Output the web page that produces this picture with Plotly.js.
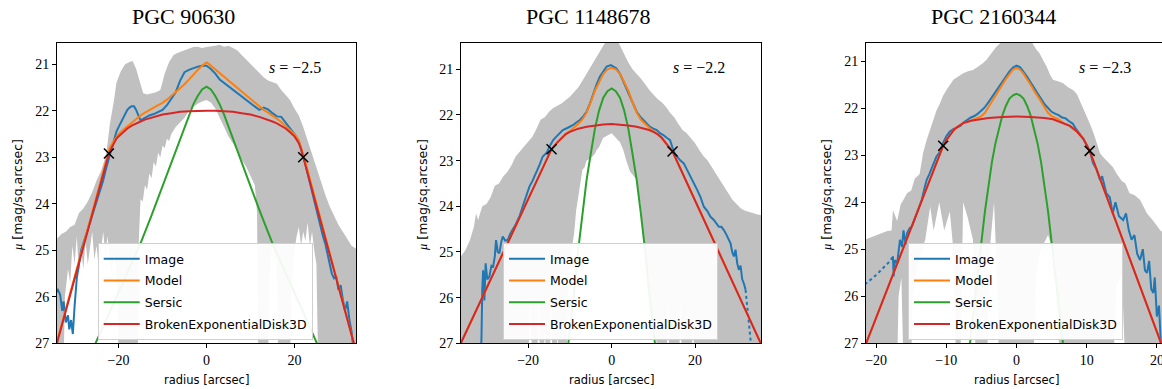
<!DOCTYPE html>
<html>
<head>
<meta charset="utf-8">
<script src="https://cdn.plot.ly/plotly-3.0.1.min.js"></script>
<style>
html,body{margin:0;padding:0;background:#fff;overflow:hidden;}
#chart{width:1170px;height:389px;}
</style>
</head>
<body>
<div id="chart"></div>
<script>
// ---------------- data ----------------
const titles = ["PGC 90630", "PGC 1148678", "PGC 2160344"];
const slopes = [-2.5, -2.2, -2.3];
const legendNames = ["Image", "Model", "Sersic", "BrokenExponentialDisk3D"];

// Panel 1 : PGC 90630
const p1ImageR = [-34.2,-33.8,-33.3,-32.8,-32.5,-32,-31.5,-31.2,-30.8,-30.4,-30,-29.5,-29,-28.5,-28,-27.5,-27,-26.5,-26,-25.5,-25,-24.5,-24,-23.5,-23,-22.5,-22,-21.5,-21,-20.5,-20,-19.5,-19,-18.5,-18,-17.5,-17,-16.5,-16,-15.5,-15,-14.5,-14,-13,-12,-11,-10,-9,-8,-7,-6,-5,-4,-3,-2,-1,0,1,2,3,4,5,6,7,8,9,10,11,12,13,14,15,16,17,18,19,20,21,22,22.5,23,23.5,24,24.5,25,25.5,26,26.5,27,27.5,28,28.5,29,29.5,30,30.5,31,31.5,32,32.5,33,33.5];
const p1Image  = [25.9,25.85,25.95,26.3,26.1,26.55,26.4,26.7,26.5,26.8,26.2,25.6,25.3,25.0,24.85,24.7,24.55,24.4,24.3,24.1,23.95,23.8,23.65,23.5,23.3,23.1,22.95,22.8,22.6,22.45,22.35,22.25,22.15,22.05,21.98,21.93,21.9,21.9,21.98,22.1,22.2,22.18,22.15,22.1,22.07,22.02,21.98,21.88,21.75,21.6,21.35,21.17,21.12,21.08,21.05,21.03,21.03,21.1,21.2,21.33,21.4,21.47,21.55,21.62,21.7,21.77,21.83,21.9,21.98,21.93,21.97,22.05,22.12,22.13,22.25,22.37,22.5,22.65,22.95,23.15,23.35,23.55,23.75,23.95,24.15,24.3,24.5,24.7,24.85,25.05,25.3,25.5,25.6,25.55,25.85,25.75,26.05,26.3,26.1,26.5,26.75,27.2];
const p1ModelR = [-34.4,-22.3,-22,-21,-20,-19,-18,-17,-16,-15,-14,-13,-12,-11,-10,-9,-8,-7,-6,-5,-4,-3,-2,-1,-0.5,0,0.5,1,2,3,4,5,6,7,8,9,10,11,12,13,14,15,16,17,18,19,20,21,22,33.8];
const p1Model  = [27.1,22.9,22.8,22.64,22.5,22.41,22.33,22.25,22.17,22.1,22.04,21.98,21.93,21.88,21.83,21.76,21.68,21.6,21.52,21.43,21.33,21.22,21.12,21.03,20.99,20.96,20.99,21.03,21.11,21.19,21.27,21.36,21.44,21.52,21.6,21.68,21.76,21.84,21.91,21.98,22.04,22.1,22.17,22.24,22.33,22.42,22.5,22.64,22.93,27.1];
const p1SersicR = [-27,-25,-22.5,-20,-17.5,-15,-12.5,-10,-7.5,-5,-4,-3,-2,-1,0,1,2,3,4,5,7.5,10,12.5,15,17.5,20,22.5,25,27];
const p1Sersic  = [27.4,26.95,26.43,25.9,25.38,24.85,24.25,23.62,22.97,22.33,22.08,21.86,21.68,21.54,21.48,21.54,21.68,21.86,22.08,22.33,22.97,23.62,24.25,24.85,25.38,25.9,26.43,26.95,27.4];
const p1DiskR = [-34.3,-22.2,-21.5,-21,-20.5,-20,-19,-18,-17,-16,-15,-14,-12,-10,-8,-6,-4,-2,0,2,4,6,8,10,12,14,15,16,17,18,19,20,20.5,21,21.5,22,33.8];
const p1Disk  = [27.1,22.92,22.78,22.68,22.6,22.55,22.46,22.38,22.32,22.27,22.23,22.19,22.13,22.08,22.05,22.02,22.01,22.0,22.0,22.0,22.01,22.02,22.05,22.08,22.13,22.19,22.23,22.27,22.32,22.38,22.46,22.55,22.62,22.7,22.82,23.0,27.1];
const p1BreakR = [-22.2, 22.0];
const p1BreakM = [22.92, 23.0];
const p1BandUpR = [-34.5,-33,-32,-31,-30,-29,-28,-27,-26,-25,-24,-23,-22.5,-22,-21,-20.5,-19.5,-18.5,-17.5,-16.8,-16,-15,-14.4,-13.5,-12.5,-11.5,-10.5,-9.5,-8.5,-7.5,-6.5,-5,-4,-3,-2,-1,0,1,2,3,4,5,6,7,8,9,10,11,12,13,14,15,16,17,18,19,20,21,22,23,24,25,26,27,28,29,30,31,32,33,34.5];
const p1BandUp  = [24.8,24.65,24.6,24.5,24.45,24.2,24.1,23.95,23.75,23.5,23.3,23.0,22.7,22.3,21.75,21.4,21.15,21.0,20.95,20.93,21.1,21.45,21.62,21.65,21.62,21.6,21.55,21.2,20.95,20.8,20.75,20.7,20.68,20.63,20.62,20.65,20.63,20.62,20.6,20.58,20.62,20.6,20.65,20.7,20.8,20.9,21.0,21.1,21.2,21.28,21.35,21.38,21.42,21.55,21.65,21.77,21.95,22.1,22.35,22.65,22.95,23.2,23.5,23.8,24.05,24.25,24.45,24.6,24.75,24.9,25.0];
const p1BandLowR = [-34.5,-32.5,-32.2,-31.5,-31,-30.5,-30,-29.5,-29,-28.5,-28,-27.5,-27,-26.5,-26,-25.5,-25,-24.5,-24,-23.5,-23,-22.5,-22,-21.5,-21,-20.5,-20.2,-20,-15.6,-15.4,-15,-14.5,-14,-13.5,-13,-12.5,-12,-11.5,-11,-10.5,-10,-9.5,-9,-8.5,-8,-7,-6,-5,-4,-3,-2,-1,0,1,2,3,4,5,6,7,8,9,10,10.5,11,11.5,11.8,14,14.3,15,15.5,16,16.3,19,19.3,20,20.5,21,21.5,22,22.5,23,23.5,24,24.5,25,25.4,34.5];
const p1BandLow  = [27.5,27.5,26.0,25.4,25.7,24.9,25.3,24.7,25.5,25.0,25.4,24.8,25.3,25.0,24.6,25.2,24.9,25.4,25.0,24.6,25.1,24.7,25.2,25.5,25.0,25.6,26.2,27.5,27.5,24.8,23.9,23.95,23.6,23.7,23.35,23.45,23.1,23.2,22.9,23.0,22.75,22.8,22.6,22.65,22.5,22.35,22.25,22.15,22.0,21.92,21.85,21.8,21.77,21.82,21.95,22.15,22.35,22.55,22.7,22.85,23.05,23.2,23.4,23.5,23.6,24.2,27.5,27.5,25.6,24.8,25.3,25.0,27.5,27.5,25.8,25.0,24.7,24.5,24.9,24.6,24.8,24.4,24.9,24.6,25.0,25.3,27.5,27.5];

// Panel 2 : PGC 1148678
const p2ImageR = [-31.5,-31.2,-31,-30.8,-30.5,-30.2,-29.8,-29.3,-28.8,-28.4,-28,-27.7,-27.3,-26.9,-26.5,-26.1,-25.5,-24.9,-24.3,-23.7,-23,-22.5,-22,-21.3,-20.5,-19.7,-19,-18.1,-17.3,-16.5,-15.5,-14.9,-14,-13.3,-12.5,-11.7,-10.5,-9.2,-8.4,-7.6,-6.8,-6,-5.2,-4.4,-3.6,-2.8,-2,-1.2,-0.2,0.5,1.1,2,2.8,3.6,4.4,5.2,6,6.8,7.6,8.4,9.2,10,10.8,11.6,12.4,13.2,14,14.6,15.2,15.7,16.5,17.3,18.1,18.9,19.7,20.5,21.3,22.1,22.9,23.7,24.5,25.1,25.7,26.3,26.9,27.5,28,28.5,28.9,29.3,29.7,30.1,30.5,30.9,31.3,31.7,32.1];
const p2Image  = [27.6,26.9,25.83,25.4,26.06,25.25,25.6,25.54,25.3,25.32,25.1,24.74,25.0,25.03,24.8,24.66,24.75,24.74,24.6,24.52,24.4,24.3,24.2,24.0,23.8,23.57,23.45,23.28,23.1,22.91,22.82,22.69,22.55,22.48,22.4,22.33,22.28,22.22,22.16,22.11,22.03,21.93,21.75,21.53,21.33,21.16,21.04,20.94,20.91,20.94,20.98,21.1,21.27,21.43,21.6,21.78,21.93,22.03,22.11,22.2,22.26,22.3,22.33,22.4,22.44,22.5,22.55,22.72,22.85,22.91,23.0,23.06,23.2,23.35,23.5,23.64,23.8,24.01,24.1,24.23,24.3,24.38,24.45,24.45,24.52,24.62,24.7,24.81,25.0,25.1,24.95,25.25,25.39,25.3,25.6,25.69,25.83];
const p2ImageFaintR = [32.1,32.5,32.9,33.3,33.6];
const p2ImageFaint  = [25.83,26.15,26.5,26.93,27.3];
const p2ModelR = [-36.4,-14.4,-13,-12,-11,-10,-9,-8,-7,-6,-5,-4,-3,-2,-1,0,1,2,3,4,5,6,7,8,9,10,11,12,13,14,14.6,36.0];
const p2Model  = [27.05,22.75,22.6,22.5,22.42,22.35,22.28,22.2,22.1,21.95,21.72,21.47,21.28,21.1,21.0,20.97,21.0,21.1,21.28,21.47,21.72,21.95,22.1,22.2,22.28,22.35,22.42,22.5,22.62,22.72,22.8,27.05];
const p2SersicR = [-11.5,-11,-10,-9,-8,-7,-6,-5,-4,-3,-2,-1,0,1,2,3,4,5,6,7,8,9,10,11,11.5];
const p2Sersic  = [27.9,27.5,26.7,25.9,24.95,24.15,23.42,22.85,22.3,21.9,21.62,21.48,21.42,21.48,21.62,21.9,22.3,22.85,23.42,24.15,24.95,25.9,26.7,27.5,27.9];
const p2DiskR = [-36.4,-14.4,-13,-12,-11,-10,-9,-8,-6,-4,-2,0,2,4,6,8,9,10,11,12,13,14,14.6,36.0];
const p2Disk  = [27.05,22.75,22.6,22.5,22.42,22.37,22.33,22.3,22.26,22.23,22.21,22.2,22.21,22.23,22.26,22.3,22.33,22.37,22.42,22.5,22.62,22.72,22.8,27.05];
const p2BreakR = [-14.4, 14.6];
const p2BreakM = [22.75, 22.8];
const p2BandUpR = [-36.5,-35,-34,-33,-32.5,-32,-31,-30,-29,-28,-27,-26,-25,-24,-23,-22,-21,-20,-19,-18,-17,-16,-15,-14,-13,-12,-11,-10,-9,-8,-7,-6,-5,-4,-3,-2,-1.2,-0.5,0,0.5,1.5,2.8,4,5,6,7,8,9,10,11,12,13,14,15,16,17,18,19,20,21,22,23,24,25,26,27,28,29,30,31,32,33,34,35,36.5];
const p2BandUp  = [25.15,24.95,24.75,24.45,24.15,24.3,24.0,23.95,23.8,23.55,23.5,23.35,23.25,23.1,22.91,22.8,22.7,22.6,22.48,22.3,22.1,22.05,21.93,21.85,21.8,21.75,21.67,21.6,21.5,21.4,21.25,21.1,20.95,20.8,20.65,20.5,20.36,20.2,20.1,20.2,20.38,20.65,20.85,21.0,21.09,21.2,21.32,21.45,21.55,21.65,21.72,21.82,21.95,22.05,22.2,22.33,22.4,22.5,22.62,22.77,22.9,23.0,23.15,23.28,23.45,23.6,23.72,23.86,23.95,24.05,24.1,24.12,24.15,24.18,24.2];
const p2BandLowR = [-36.5,-20,-19.5,-19,-17.8,-17.5,-17.2,-16.2,-16,-15.8,-14.8,-14.5,-14.2,-13.2,-13,-12.8,-10.8,-10.5,-10,-9.5,-9,-8.5,-8,-7.5,-7,-6.5,-6,-5,-4,-3.6,-3,-2,-1,0,1,2,2.8,3.5,4.4,5,6,7,7.8,8.5,9.5,10.5,11.2,13.2,13.5,13.8,16.2,16.5,16.8,19.2,19.5,19.8,36.5];
const p2BandLow  = [27.5,27.5,26.0,27.5,27.5,25.8,27.5,27.5,26.2,27.5,27.5,25.7,27.5,27.5,26.5,27.5,27.5,26.0,25.2,24.9,24.6,24.1,23.8,23.5,23.2,23.15,23.0,22.95,22.85,22.77,22.7,22.5,22.45,22.4,22.5,22.6,22.77,23.0,23.24,23.3,23.42,24.0,24.88,25.5,26.2,26.7,27.5,27.5,26.0,27.5,27.5,25.9,27.5,27.5,26.3,27.5,27.5];

// Panel 3 : PGC 2160344
const p3ImageR = [-17.6,-17.5,-17.3,-17,-16.6,-16.3,-16.1,-15.8,-15.6,-15.2,-14.9,-14.5,-14.2,-13.8,-13.5,-13.1,-12.8,-12.4,-11.9,-11.4,-11,-10.5,-10,-9.5,-9,-8.5,-8,-7.5,-7,-6.5,-6,-5.5,-5,-4.5,-4,-3.5,-3,-2.5,-2,-1.5,-1,-0.5,0,0.5,1,1.5,2,2.5,3,3.5,4,4.5,5,5.5,6,6.5,7,7.5,8,8.5,9,9.5,10,10.5,10.9,11.4,11.9,12.2,12.8,13.3,13.7,14.1,14.6,15.2,15.6,16,16.4,16.8,17.2,17.6,18,18.3,18.6,18.9,19.2,19.5,19.7,20,20.3,20.6];
const p3Image  = [25.15,25.58,25.23,25.3,24.8,24.95,24.6,24.9,24.66,24.55,24.52,24.35,24.24,24.05,23.95,23.7,23.53,23.4,23.2,23.03,22.95,22.75,22.6,22.5,22.45,22.42,22.38,22.3,22.25,22.2,22.17,22.12,22.05,21.98,21.88,21.77,21.68,21.57,21.45,21.33,21.22,21.14,21.1,21.13,21.22,21.33,21.45,21.57,21.7,21.8,21.92,22.0,22.08,22.12,22.15,22.2,22.22,22.28,22.33,22.45,22.55,22.65,22.78,22.95,23.17,23.3,23.53,23.45,23.81,23.9,24.24,24.0,24.3,24.38,24.24,24.6,24.8,24.7,25.1,25.23,25.0,25.45,25.5,25.25,25.85,25.93,25.6,26.43,26.2,27.1];
const p3ImageFaintR = [-21.6,-20,-19,-18,-17.6];
const p3ImageFaint  = [25.75,25.55,25.4,25.25,25.15];
const p3ModelR = [-21.6,-10.44,-10,-9.5,-9,-8.5,-7.6,-6.5,-6,-5,-4.5,-4,-3.5,-3,-2.5,-2,-1.5,-1,-0.5,0,0.5,1,1.5,2,2.5,3,3.5,4,4.5,5,6,6.7,7.6,8.6,9.5,10.43,21.6];
const p3Model  = [27.07,22.8,22.68,22.57,22.48,22.41,22.32,22.27,22.24,22.17,22.1,21.99,21.86,21.74,21.63,21.5,21.38,21.27,21.18,21.15,21.18,21.27,21.38,21.5,21.63,21.74,21.86,21.99,22.1,22.17,22.24,22.32,22.38,22.5,22.65,22.91,27.4];
const p3SersicR = [-7,-6.5,-6,-5.5,-5,-4.5,-4,-3.5,-3,-2.5,-2,-1.5,-1,-0.5,0,0.5,1,1.5,2,2.5,3,3.5,4,4.5,5,5.5,6,6.5,7];
const p3Sersic  = [27.5,26.8,26.15,25.5,24.85,24.2,23.65,23.15,22.75,22.45,22.15,21.95,21.8,21.73,21.7,21.73,21.8,21.95,22.15,22.45,22.75,23.15,23.65,24.2,24.85,25.5,26.15,26.8,27.5];
const p3DiskR = [-21.6,-10.44,-10,-9.5,-9,-8.5,-7.6,-6.5,-5.2,-4,-2,0,2,4,5.2,6.7,7.6,8.6,9.5,10.43,21.6];
const p3Disk  = [27.07,22.8,22.68,22.57,22.48,22.41,22.32,22.27,22.24,22.21,22.19,22.18,22.19,22.21,22.24,22.32,22.38,22.5,22.65,22.91,27.4];
const p3BreakR = [-10.44, 10.43];
const p3BreakM = [22.8, 22.91];
const p3BandUpR = [-21.6,-20,-18.5,-17.8,-17.6,-17,-16.5,-16.1,-15.6,-15,-14.5,-13.8,-13.3,-12.8,-12.3,-11.9,-11.4,-10.9,-10.5,-10,-9.5,-9,-8.3,-7.6,-6.9,-6.2,-5.5,-4.8,-4.3,-3.6,-2.9,-2.2,-1.5,0,1.5,2.2,2.8,3.3,3.8,4.3,4.8,5.2,5.9,6.6,7.3,8.1,8.6,9,9.5,10,10.5,11,11.5,11.9,12.4,13,13.7,14.3,15,15.5,16.1,16.8,17.6,18.1,18.6,19.5,20.5,21.6];
const p3BandUp  = [24.8,24.7,24.62,24.6,24.17,24.4,24.05,23.95,23.81,23.75,23.5,23.4,22.95,22.68,22.45,22.25,22.05,21.9,21.75,21.62,21.5,21.4,21.33,21.26,21.22,21.19,21.12,21.05,20.98,20.85,20.7,20.6,20.5,20.45,20.5,20.6,20.75,20.84,20.98,21.12,21.3,21.4,21.43,21.47,21.55,21.62,21.7,21.83,22.0,22.18,22.35,22.54,22.75,22.96,23.05,23.15,23.25,23.4,23.55,23.6,23.81,23.85,23.95,24.1,24.24,24.4,24.6,24.75];
const p3BandLowR = [-21.6,-17,-16.8,-16.4,-16.1,-15,-14.8,-14,-13,-12.3,-11.8,-11,-10.3,-9.5,-9,-8.6,-8,-7.6,-7,-6.2,-5.8,-4.2,-3.8,-3.2,-2.8,-2.5,2.4,2.8,3.5,4.5,5.5,6.2,13.8,14.2,15,15.5,21.6];
const p3BandLow  = [27.5,27.5,26.0,25.6,27.5,27.5,26.0,25.3,24.8,24.1,24.6,24.0,24.6,24.2,25.0,27.5,27.5,24.0,24.3,24.8,27.5,27.5,25.0,24.0,25.5,27.5,27.5,25.5,25.0,24.7,25.2,27.5,27.5,25.8,25.5,27.5,27.5];

// ---------------- styling ----------------
const SERIF = "Liberation Serif, DejaVu Serif, serif";
const SANS = "DejaVu Sans, sans-serif";
const C = {img:'#1f77b4', model:'#ff7f0e', sersic:'#2ca02c', disk:'#d62728', band:'#c0c0c0'};
const W = 1170, H = 389;

const panels = [
  {imgR:p1ImageR, img:p1Image, faintR:null, faint:null, modR:p1ModelR, mod:p1Model, serR:p1SersicR, ser:p1Sersic, diskR:p1DiskR, disk:p1Disk, brR:p1BreakR, brM:p1BreakM, upR:p1BandUpR, up:p1BandUp, lowR:p1BandLowR, low:p1BandLow,
   px:[57,356], xrange:[-34,34], yrange:[27,20.535], xticks:[-20,0,20], titleX:183, sX:295, yTitleX:18, legX:97.7},
  {imgR:p2ImageR, img:p2Image, faintR:p2ImageFaintR, faint:p2ImageFaint, modR:p2ModelR, mod:p2Model, serR:p2SersicR, ser:p2Sersic, diskR:p2DiskR, disk:p2Disk, brR:p2BreakR, brM:p2BreakM, upR:p2BandUpR, up:p2BandUp, lowR:p2BandLowR, low:p2BandLow,
   px:[461,761], xrange:[-36.1,35.8], yrange:[27,20.418], xticks:[-20,0,20], titleX:587.5, sX:699, yTitleX:423, legX:503},
  {imgR:p3ImageR, img:p3Image, faintR:p3ImageFaintR, faint:p3ImageFaint, modR:p3ModelR, mod:p3Model, serR:p3SersicR, ser:p3Sersic, diskR:p3DiskR, disk:p3Disk, brR:p3BreakR, brM:p3BreakM, upR:p3BandUpR, up:p3BandUp, lowR:p3BandLowR, low:p3BandLow,
   px:[866,1166], xrange:[-21.44,21.3], yrange:[27,20.611], xticks:[-20,-10,0,10,20], titleX:993, sX:1105, yTitleX:827, legX:908}
];

const plotTop = 42.7, plotBot = 343.3;
const traces = [];
const layout = {
  width: W, height: H,
  margin: {l:0, r:0, t:0, b:0},
  paper_bgcolor: '#fff', plot_bgcolor: '#fff',
  showlegend: true, hovermode: false,
  annotations: []
};

panels.forEach((p, i) => {
  const n = i === 0 ? '' : String(i + 1);
  const xa = 'x' + n, ya = 'y' + n, lg = 'legend' + n;
  const bx = p.upR.concat(p.lowR.slice().reverse());
  const by = p.up.concat(p.low.slice().reverse());
  traces.push({x: bx, y: by, xaxis: xa, yaxis: ya, mode: 'lines', fill: 'toself', fillcolor: C.band,
    line: {width: 0, color: C.band}, showlegend: false, hoverinfo: 'skip'});
  traces.push({x: p.imgR, y: p.img, xaxis: xa, yaxis: ya, mode: 'lines', name: legendNames[0],
    line: {color: C.img, width: 2}, legend: lg, legendgroup: 'a' + i});
  if (p.faintR) {
    traces.push({x: p.faintR, y: p.faint, xaxis: xa, yaxis: ya, mode: 'lines', showlegend: false,
      line: {color: C.img, width: 2, dash: 'dot'}});
  }
  traces.push({x: p.modR, y: p.mod, xaxis: xa, yaxis: ya, mode: 'lines', name: legendNames[1],
    line: {color: C.model, width: 2}, legend: lg, legendgroup: 'b' + i});
  traces.push({x: p.serR, y: p.ser, xaxis: xa, yaxis: ya, mode: 'lines', name: legendNames[2],
    line: {color: C.sersic, width: 2}, legend: lg, legendgroup: 'c' + i});
  traces.push({x: p.diskR, y: p.disk, xaxis: xa, yaxis: ya, mode: 'lines', name: legendNames[3],
    line: {color: C.disk, width: 2}, legend: lg, legendgroup: 'd' + i});
  traces.push({x: p.brR, y: p.brM, xaxis: xa, yaxis: ya, mode: 'markers', showlegend: false,
    marker: {symbol: 'x-thin', size: 10, line: {color: '#000', width: 1.5}, color: '#000'}, cliponaxis: false});

  const common = {ticks: 'outside', ticklen: 4, tickwidth: 1, tickcolor: '#000', showline: true, linecolor: '#000',
    linewidth: 1, mirror: true, zeroline: false, showgrid: false, tickfont: {family: SERIF, size: 14, color: '#000'}};
  layout['xaxis' + n] = Object.assign({}, common, {domain: [p.px[0] / W, p.px[1] / W], range: p.xrange,
    tickvals: p.xticks, anchor: ya});
  layout['yaxis' + n] = Object.assign({}, common, {domain: [1 - plotBot / H, 1 - plotTop / H], range: p.yrange,
    tickvals: [21, 22, 23, 24, 25, 26, 27], anchor: xa});
  layout[lg] = {x: p.legX / W, y: 1 - 243 / H, xanchor: 'left', yanchor: 'top', xref: 'paper', yref: 'paper',
    bgcolor: 'rgba(255,255,255,0.93)', bordercolor: '#d0d0d0', borderwidth: 1, itemwidth: 36,
    font: {family: SANS, size: 12.5, color: '#000'}, tracegroupgap: 2.5};

  const cx = (p.px[0] + p.px[1]) / 2 / W;
  layout.annotations.push({text: titles[i], x: p.titleX / W, y: 1 - 17 / H, xref: 'paper', yref: 'paper',
    showarrow: false, xanchor: 'center', yanchor: 'middle', font: {family: SERIF, size: 22, color: '#000'}});
  layout.annotations.push({text: '<i>s</i> = ' + String(slopes[i]).replace('-', '\u2212'), x: p.sX / W, y: 1 - 68 / H,
    xref: 'paper', yref: 'paper', showarrow: false, xanchor: 'center', yanchor: 'middle',
    font: {family: SERIF, size: 16, color: '#000'}});
  layout.annotations.push({text: 'radius [arcsec]', x: cx, y: 1 - 380 / H, xref: 'paper', yref: 'paper',
    showarrow: false, xanchor: 'center', yanchor: 'middle', font: {family: SANS, size: 11.5, color: '#000'}});
  layout.annotations.push({text: '<span style="font-family:Liberation Serif;font-style:italic">\u03bc</span> [mag/sq.arcsec]',
    x: p.yTitleX / W, y: 1 - 195 / H, xref: 'paper', yref: 'paper', showarrow: false, textangle: -90,
    xanchor: 'center', yanchor: 'middle', font: {family: SANS, size: 12.5, color: '#000'}});
});

Plotly.newPlot('chart', traces, layout, {displayModeBar: false, staticPlot: true});
</script>
</body>
</html>
